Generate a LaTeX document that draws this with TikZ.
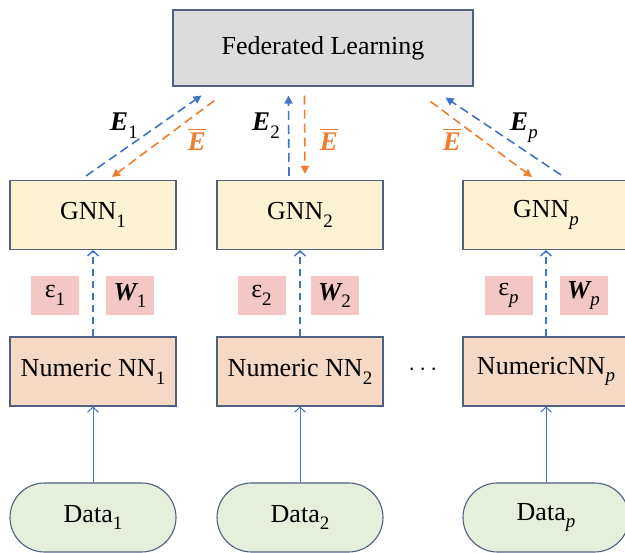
\documentclass[tikz,border=0pt]{standalone}
\usepackage{amsmath}
\usepackage{fontspec}
\setmainfont{Liberation Serif}
\usetikzlibrary{arrows.meta,calc,shapes.misc}
\definecolor{bordc}{HTML}{4F6080}
\definecolor{flfill}{HTML}{DCDCDC}
\definecolor{gnnfill}{HTML}{FDF2D2}
\definecolor{nnfill}{HTML}{F5D9C4}
\definecolor{datafill}{HTML}{E5EFDC}
\definecolor{pinkfill}{HTML}{F4C6C6}
\definecolor{myblue}{HTML}{4472C4}
\definecolor{myorange}{HTML}{ED7D31}
\tikzset{
  box/.style={draw=bordc, line width=1.1pt, minimum width=166pt, minimum height=69pt, inner sep=0pt, font=\fontsize{26}{30}\selectfont},
  flbox/.style={box, fill=flfill, minimum width=300pt, minimum height=76pt},
  gnnbox/.style={box, fill=gnnfill},
  nnbox/.style={box, fill=nnfill},
  databox/.style={box, fill=datafill, rounded rectangle, minimum width=166pt},
  pinkbox/.style={fill=pinkfill, minimum width=48pt, minimum height=39pt, inner sep=0pt, font=\fontsize{26}{30}\selectfont},
  lbl/.style={inner sep=0pt, font=\fontsize{27}{30}\selectfont},
  blued/.style={draw=myblue, line width=1.6pt, dash pattern=on 9pt off 5pt, -{Triangle[length=8pt,width=8pt]}},
  oranged/.style={draw=myorange, line width=1.6pt, dash pattern=on 9pt off 5pt, -{Triangle[length=8pt,width=8pt]}},
  upd/.style={draw=myblue, line width=1.6pt, dash pattern=on 7pt off 5pt, -{Straight Barb[length=5pt,width=11pt,line width=1.4pt]}},
  dataarr/.style={draw=myblue, line width=1pt, -{Straight Barb[length=5pt,width=11pt,line width=1pt]}},
}
\newcommand{\lsub}[1]{\raisebox{-0.3em}{\fontsize{19}{20}\selectfont #1}}
\newcommand{\ipp}{\lsub{\itshape p}}
\newcommand{\bE}{{\bfseries\itshape E}}
\newcommand{\bW}{{\bfseries\itshape W}}
\newcommand{\ebar}{$\overline{\mbox{\bE}}$}
\begin{document}
\begin{tikzpicture}[x=1pt,y=-1pt]
\useasboundingbox (0,0) rectangle (625,553);
\clip (0,0) rectangle (625,553);
% boxes
\node[flbox] (fl) at (323,48) {Federated Learning};
\node[gnnbox] (g1) at (93,215) {GNN\lsub{1}};
\node[gnnbox] (g2) at (300,215) {GNN\lsub{2}};
\node[gnnbox] (gp) at (546,215) {GNN\ipp};
\node[nnbox] (n1) at (93,371.5) {Numeric NN\lsub{1}};
\node[nnbox] (n2) at (300,371.5) {Numeric NN\lsub{2}};
\node[nnbox] (np) at (546,371.5) {NumericNN\ipp};
\node[databox] (d1) at (93,517.5) {Data\lsub{1}};
\node[databox] (d2) at (300,517.5) {Data\lsub{2}};
\node[databox] (dp) at (546,517.5) {Data\ipp};
\node[lbl] (dots) at (425,370) {$\cdots$};
% pink labels
\node[pinkbox] (e1) at (55,295.5) {ε\lsub{1}};
\node[pinkbox] (w1) at (130,295.5) {\bW\lsub{1}};
\node[pinkbox] (e2) at (261.5,295.5) {ε\lsub{2}};
\node[pinkbox] (w2) at (334.5,295.5) {\bW\lsub{2}};
\node[pinkbox] (ep) at (508.5,295.5) {ε\ipp};
\node[pinkbox] (wp) at (583.5,295.5) {\bW\ipp};
% data -> numeric
\draw[dataarr] (d1.north) -- (n1.south);
\draw[dataarr] (d2.north) -- (n2.south);
\draw[dataarr] (dp.north) -- (np.south);
% numeric -> gnn
\draw[upd] (n1.north) -- (g1.south);
\draw[upd] (n2.north) -- (g2.south);
\draw[upd] (np.north) -- (gp.south);
% exchange with FL
\coordinate (a1s) at ($(g1.north)+(-7,-4)$);
\coordinate (a1e) at ($(fl.south west)+(29,9)$);
\draw[blued] (a1s) -- (a1e);
\coordinate (o1s) at ($(fl.south west)+(42,14)$);
\coordinate (o1e) at ($(g1.north)+(19,-3)$);
\draw[oranged] (o1s) -- (o1e);
\coordinate (a2s) at ($(g2.north)+(-11,-4)$);
\coordinate (a2e) at ($(fl.south west)+(116,9)$);
\draw[blued] (a2s) -- (a2e);
\coordinate (o2s) at ($(fl.south west)+(132,9)$);
\coordinate (o2e) at ($(g2.north)+(5,-6)$);
\draw[oranged] (o2s) -- (o2e);
\coordinate (aps) at ($(gp.north)+(15,-5)$);
\coordinate (ape) at ($(fl.south east)+(-28,11)$);
\draw[blued] (aps) -- (ape);
\coordinate (ops) at ($(fl.south east)+(-43,15)$);
\coordinate (ope) at ($(gp.north)+(-14,-3)$);
\draw[oranged] (ops) -- (ope);
% labels
\node[lbl] (l1) at (124,126) {\bE\lsub{1}};
\node[lbl, text=myorange] (b1) at (197,139) {\ebar};
\node[lbl] (l2) at (266,126) {\bE\lsub{2}};
\node[lbl, text=myorange] (b2) at (329,139) {\ebar};
\node[lbl] (lp) at (524,128) {\bE\ipp};
\node[lbl, text=myorange] (bp) at (452,139) {\ebar};
\end{tikzpicture}
\end{document}
